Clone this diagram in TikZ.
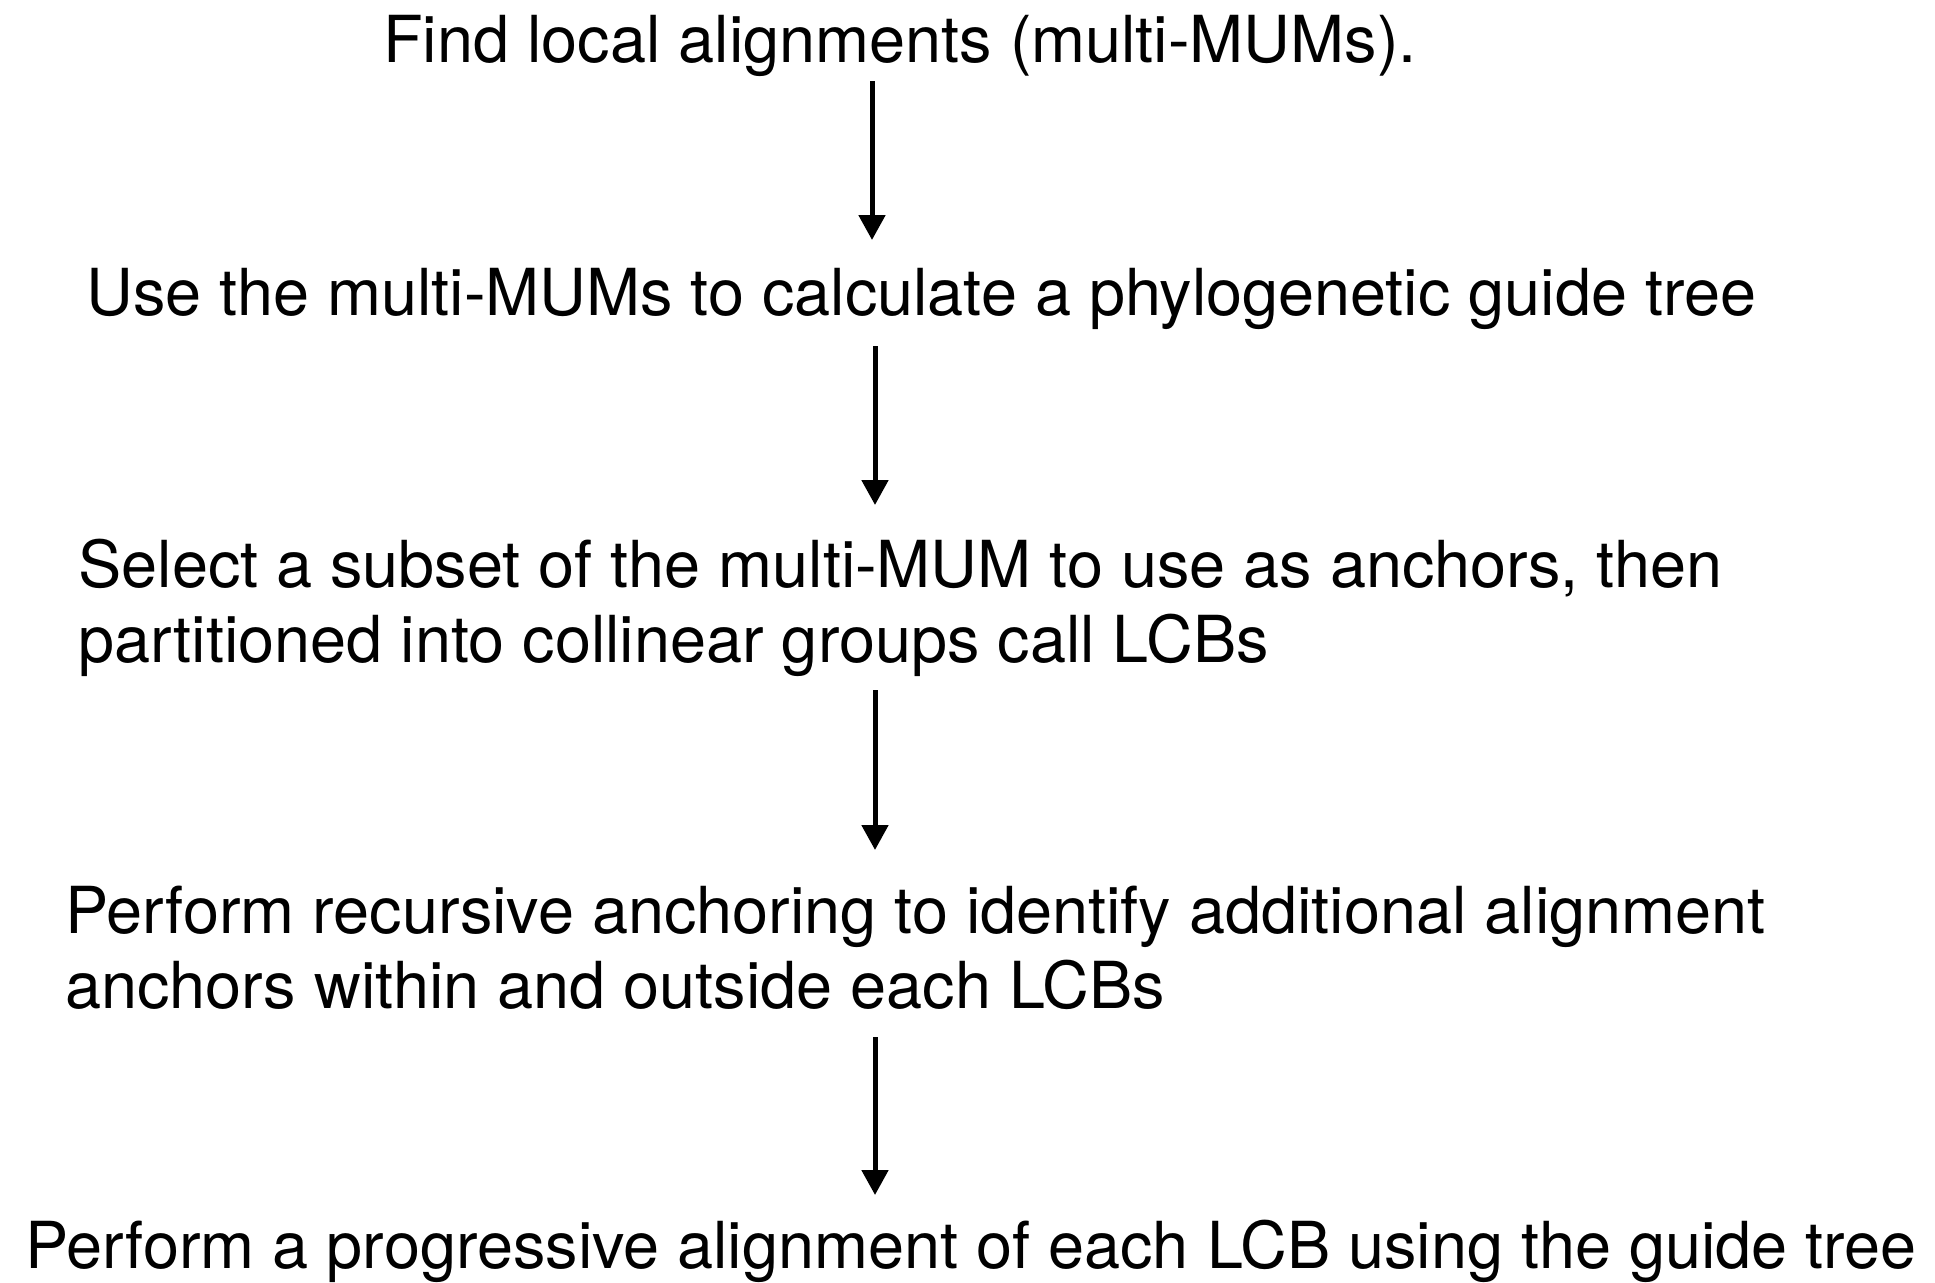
\documentclass[tikz,border=0pt]{standalone}
\usepackage{fontspec}
\setmainfont{TeX Gyre Heros}
\usetikzlibrary{arrows.meta,calc}
\tikzset{
  steptext/.style={anchor=base west, inner sep=0pt, align=left,
    font=\fontsize{32.4pt}{37.5pt}\selectfont},
  flowarrow/.style={line width=2.5pt, -{Triangle[length=12.5pt,width=13pt]}}
}
\begin{document}
\begin{tikzpicture}[x=0.5pt, y=-0.5pt]
  \useasboundingbox (0,0) rectangle (1935,1282);
  % steps (two-line steps are placed by the baseline of their last line)
  \node[steptext] (s1) at (383,62) {Find local alignments (multi-MUMs).};
  \node[steptext] (s2) at (86,315) {Use the multi-MUMs to calculate a phylogenetic guide tree};
  \node[steptext] (s3) at (78,662) {Select a subset of the multi-MUM to use as anchors, then\\partitioned into collinear groups call LCBs};
  \node[steptext] (s4) at (65,1008) {Perform recursive anchoring to identify additional alignment\\anchors within and outside each LCBs};
  \node[steptext] (s5) at (25,1268) {Perform a progressive alignment of each LCB using the guide tree};
  % connectors
  \coordinate (ax1) at (872,0);
  \coordinate (ax) at (875,0);
  \draw[flowarrow] ($(s1.base -| ax1)+(0,19)$) -- ($(s2.base -| ax1)+(0,-75)$);
  \draw[flowarrow] ($(s2.base -| ax)+(0,31)$) -- ($(s3.base -| ax)+(0,-157)$);
  \draw[flowarrow] ($(s3.base -| ax)+(0,28)$) -- ($(s4.base -| ax)+(0,-158)$);
  \draw[flowarrow] ($(s4.base -| ax)+(0,29)$) -- ($(s5.base -| ax)+(0,-73)$);
\end{tikzpicture}
\end{document}
